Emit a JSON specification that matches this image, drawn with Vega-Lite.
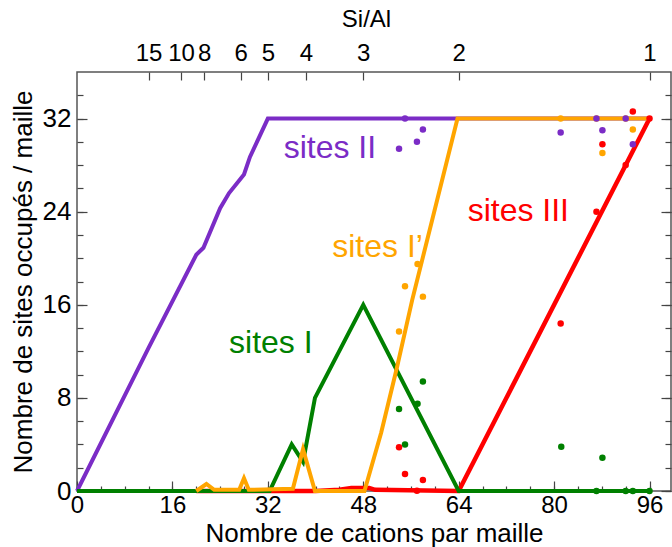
{
  "$schema": "https://vega.github.io/schema/vega-lite/v6.json",
  "width": 594,
  "height": 419,
  "autosize": {"type": "none"},
  "padding": {"left": 77, "top": 72, "right": 1, "bottom": 56},
  "config": {
    "font": "Liberation Sans",
    "view": {"stroke": "#555555", "strokeWidth": 1.5},
    "axis": {"grid": false, "domain": false, "tickColor": "#444444", "tickWidth": 1.2, "labelColor": "black", "titleColor": "black", "titleFontWeight": "normal", "labelFlush": false, "labelOverlap": false}
  },
  "datasets": {
    "lines": [
      {"site": "II", "x": 0, "y": 0},
      {"site": "II", "x": 12, "y": 12.3},
      {"site": "II", "x": 20, "y": 20.3},
      {"site": "II", "x": 21.2, "y": 20.9},
      {"site": "II", "x": 24, "y": 24.3},
      {"site": "II", "x": 25.5, "y": 25.6},
      {"site": "II", "x": 28, "y": 27.2},
      {"site": "II", "x": 29, "y": 28.7},
      {"site": "II", "x": 32, "y": 32},
      {"site": "II", "x": 96, "y": 32},
      {"site": "III", "x": 20, "y": 0},
      {"site": "III", "x": 40, "y": 0},
      {"site": "III", "x": 44, "y": 0.1},
      {"site": "III", "x": 46, "y": 0.25},
      {"site": "III", "x": 49, "y": 0.25},
      {"site": "III", "x": 50, "y": 0.1},
      {"site": "III", "x": 64, "y": 0},
      {"site": "III", "x": 96, "y": 32},
      {"site": "I", "x": 0, "y": 0},
      {"site": "I", "x": 32.3, "y": 0},
      {"site": "I", "x": 36, "y": 4},
      {"site": "I", "x": 37.9, "y": 2.5},
      {"site": "I", "x": 39.9, "y": 8},
      {"site": "I", "x": 48, "y": 16},
      {"site": "I", "x": 64, "y": 0},
      {"site": "I", "x": 96, "y": 0},
      {"site": "Ip", "x": 20, "y": 0},
      {"site": "Ip", "x": 21.7, "y": 0.6},
      {"site": "Ip", "x": 23, "y": 0.1},
      {"site": "Ip", "x": 27.2, "y": 0.1},
      {"site": "Ip", "x": 28, "y": 1.1},
      {"site": "Ip", "x": 28.8, "y": 0.1},
      {"site": "Ip", "x": 36.2, "y": 0.2},
      {"site": "Ip", "x": 37.9, "y": 3.6},
      {"site": "Ip", "x": 39.9, "y": 0},
      {"site": "Ip", "x": 48.2, "y": 0},
      {"site": "Ip", "x": 51, "y": 5},
      {"site": "Ip", "x": 53.6, "y": 10.5},
      {"site": "Ip", "x": 56.2, "y": 16.4},
      {"site": "Ip", "x": 63.8, "y": 32},
      {"site": "Ip", "x": 96, "y": 32}
    ],
    "points": [
      {"site": "Ip", "x": 81.1, "y": 32},
      {"site": "Ip", "x": 87.1, "y": 32},
      {"site": "Ip", "x": 92, "y": 32},
      {"site": "II", "x": 54, "y": 29.4},
      {"site": "II", "x": 55, "y": 32},
      {"site": "II", "x": 57, "y": 30},
      {"site": "II", "x": 58, "y": 31.05},
      {"site": "II", "x": 81.1, "y": 30.8},
      {"site": "II", "x": 87.1, "y": 32},
      {"site": "II", "x": 88.1, "y": 31},
      {"site": "II", "x": 92, "y": 32},
      {"site": "II", "x": 93.2, "y": 29.8},
      {"site": "Ip", "x": 54, "y": 13.7},
      {"site": "Ip", "x": 55, "y": 17.6},
      {"site": "Ip", "x": 57.1, "y": 19.5},
      {"site": "Ip", "x": 58, "y": 16.7},
      {"site": "Ip", "x": 88.1, "y": 29.05},
      {"site": "Ip", "x": 93.2, "y": 31.05},
      {"site": "I", "x": 54, "y": 7.05},
      {"site": "I", "x": 55, "y": 4},
      {"site": "I", "x": 57.1, "y": 7.5},
      {"site": "I", "x": 58, "y": 9.4},
      {"site": "I", "x": 81.2, "y": 3.8},
      {"site": "I", "x": 87.1, "y": 0},
      {"site": "I", "x": 88.1, "y": 2.86},
      {"site": "I", "x": 92, "y": 0},
      {"site": "I", "x": 93.2, "y": 0},
      {"site": "I", "x": 96, "y": 0},
      {"site": "III", "x": 54, "y": 3.75},
      {"site": "III", "x": 55, "y": 1.46},
      {"site": "III", "x": 57, "y": 0.03},
      {"site": "III", "x": 58, "y": 0.95},
      {"site": "III", "x": 81.1, "y": 14.4},
      {"site": "III", "x": 87.1, "y": 24},
      {"site": "III", "x": 88.1, "y": 29.8},
      {"site": "III", "x": 92, "y": 28},
      {"site": "III", "x": 93.2, "y": 32.6},
      {"site": "III", "x": 96, "y": 32}
    ],
    "labels": [
      {"site": "II", "text": "sites II", "x": 42.4, "y": 29.5},
      {"site": "Ip", "text": "sites I’", "x": 50.4, "y": 21.0},
      {"site": "I", "text": "sites I", "x": 32.5, "y": 12.7},
      {"site": "III", "text": "sites III", "x": 74.0, "y": 24.1}
    ]
  },
  "layer": [
    {
      "data": {"name": "lines"},
      "mark": {"type": "point", "opacity": 0},
      "encoding": {
        "x": {"field": "x", "type": "quantitative", "scale": {"domain": [0, 99.6], "nice": false, "zero": false},
              "axis": {"orient": "bottom", "values": [0, 16, 32, 48, 64, 80, 96], "tickSize": -10, "labels": false, "title": null}},
        "y": {"field": "y", "type": "quantitative", "scale": {"domain": [0, 36], "nice": false, "zero": false},
              "axis": {"orient": "left", "values": [0, 8, 16, 24, 32], "tickSize": -10, "labels": false, "title": null}}
      }
    },
    {
      "data": {"name": "lines"},
      "mark": {"type": "point", "opacity": 0},
      "encoding": {
        "x": {"field": "x", "type": "quantitative",
              "axis": {"orient": "bottom", "values": [0, 4, 8, 12, 16, 20, 24, 28, 32, 36, 40, 44, 48, 52, 56, 60, 64, 68, 72, 76, 80, 84, 88, 92, 96], "tickSize": -5, "labels": false, "title": null}},
        "y": {"field": "y", "type": "quantitative",
              "axis": {"orient": "left", "values": [0, 2, 4, 6, 8, 10, 12, 14, 16, 18, 20, 22, 24, 26, 28, 30, 32, 34], "tickSize": -6, "labels": false, "title": null}}
      }
    },
    {
      "data": {"name": "lines"},
      "mark": {"type": "point", "opacity": 0},
      "encoding": {
        "x": {"field": "x", "type": "quantitative",
              "axis": {"orient": "top", "values": [12, 17.4545, 21.3333, 27.4286, 32, 38.4, 48, 64, 96], "tickSize": -8, "labels": false, "title": null}},
        "y": {"field": "y", "type": "quantitative",
              "axis": {"orient": "right", "values": [0, 8, 16, 24, 32], "tickSize": -10, "labels": false, "title": null}}
      }
    },
    {
      "data": {"name": "lines"},
      "mark": {"type": "point", "opacity": 0},
      "encoding": {
        "x": {"field": "x", "type": "quantitative",
              "axis": {"orient": "top", "values": [12, 17.4545, 21.3333, 27.4286, 32, 38.4, 48, 64, 96], "ticks": false, "labelPadding": 7, "labelFontSize": 24,
                       "labelExpr": "format(round(192/datum.value-1),'d')",
                       "title": "Si/Al", "titleFontSize": 24, "titleX": 289, "titleY": -46, "titleAlign": "center", "titleBaseline": "alphabetic"}},
        "y": {"field": "y", "type": "quantitative",
              "axis": {"orient": "right", "values": [0, 2, 4, 6, 8, 10, 12, 14, 16, 18, 20, 22, 24, 26, 28, 30, 32, 34], "tickSize": -6, "labels": false, "title": null}}
      }
    },
    {
      "data": {"name": "lines"},
      "transform": [{"filter": "datum.site === 'II'"}],
      "mark": {"type": "line", "color": "#7B2CC6", "strokeWidth": 4},
      "encoding": {
        "x": {"field": "x", "type": "quantitative",
              "axis": {"orient": "bottom", "values": [0, 16, 32, 48, 64, 80, 96], "ticks": false, "labelPadding": 2, "labelFontSize": 24,
                       "title": "Nombre de cations par maille", "titleFontSize": 26, "titleY": 50, "titleBaseline": "alphabetic"}},
        "y": {"field": "y", "type": "quantitative",
              "axis": {"orient": "left", "values": [0, 8, 16, 24, 32], "ticks": false, "labelPadding": 6, "labelFontSize": 26,
                       "title": "Nombre de sites occupés / maille", "titleFontSize": 26, "titleX": -46, "titleBaseline": "alphabetic"}}
      }
    },
    {
      "data": {"name": "lines"},
      "transform": [{"filter": "datum.site === 'III'"}],
      "mark": {"type": "line", "color": "#FF0000", "strokeWidth": 4.5},
      "encoding": {
        "x": {"field": "x", "type": "quantitative", "axis": null},
        "y": {"field": "y", "type": "quantitative", "axis": null}
      }
    },
    {
      "data": {"name": "lines"},
      "transform": [{"filter": "datum.site === 'I'"}],
      "mark": {"type": "line", "color": "#008000", "strokeWidth": 4},
      "encoding": {
        "x": {"field": "x", "type": "quantitative", "axis": null},
        "y": {"field": "y", "type": "quantitative", "axis": null}
      }
    },
    {
      "data": {"name": "lines"},
      "transform": [{"filter": "datum.site === 'Ip'"}],
      "mark": {"type": "line", "color": "#FFA500", "strokeWidth": 4},
      "encoding": {
        "x": {"field": "x", "type": "quantitative", "axis": null},
        "y": {"field": "y", "type": "quantitative", "axis": null}
      }
    },
    {
      "data": {"name": "points"},
      "mark": {"type": "circle", "size": 42, "opacity": 1},
      "encoding": {
        "x": {"field": "x", "type": "quantitative", "axis": null},
        "y": {"field": "y", "type": "quantitative", "axis": null},
        "color": {"field": "site", "type": "nominal", "scale": {"domain": ["I", "Ip", "II", "III"], "range": ["#008000", "#FFA500", "#7B2CC6", "#FF0000"]}, "legend": null}
      }
    },
    {
      "data": {"name": "labels"},
      "mark": {"type": "text", "fontSize": 32, "align": "center", "baseline": "middle"},
      "encoding": {
        "x": {"field": "x", "type": "quantitative", "axis": null},
        "y": {"field": "y", "type": "quantitative", "axis": null},
        "text": {"field": "text"},
        "color": {"field": "site", "type": "nominal", "legend": null}
      }
    }
  ],
  "resolve": {"axis": {"x": "independent", "y": "independent"}}
}
